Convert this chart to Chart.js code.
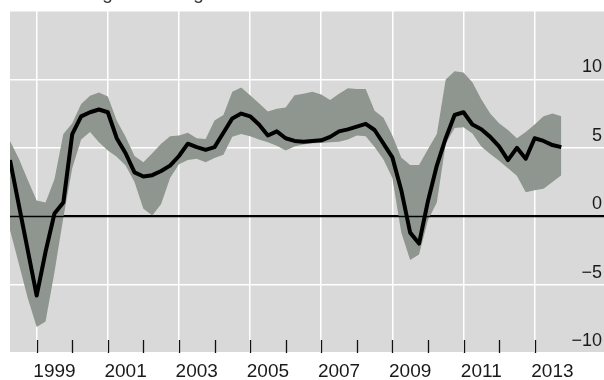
<!DOCTYPE html>
<html>
<head>
<meta charset="utf-8">
<script src="https://cdn.jsdelivr.net/npm/chart.js@4.4.1/dist/chart.umd.min.js"></script>
<style>
  html, body { margin: 0; padding: 0; background: #fff; overflow: hidden; }
  #wrap { position: relative; width: 604px; height: 380px; overflow: hidden; }
  #c { position: absolute; left: 0; top: 0; }
  #title { position: absolute; left: 53px; top: -18px; font: 19px "Liberation Sans", Arial, sans-serif;
           color: #333; white-space: nowrap; }
</style>
</head>
<body>
<div id="wrap">
  <canvas id="c" width="604" height="380"></canvas>
  <div id="title">Average and range</div>
</div>
<script>
// Quarterly periods, 1998 Q2 to 2013 Q4
const periods = [
  '1998Q2','1998Q3','1998Q4',
  '1999Q1','1999Q2','1999Q3','1999Q4',
  '2000Q1','2000Q2','2000Q3','2000Q4',
  '2001Q1','2001Q2','2001Q3','2001Q4',
  '2002Q1','2002Q2','2002Q3','2002Q4',
  '2003Q1','2003Q2','2003Q3','2003Q4',
  '2004Q1','2004Q2','2004Q3','2004Q4',
  '2005Q1','2005Q2','2005Q3','2005Q4',
  '2006Q1','2006Q2','2006Q3','2006Q4',
  '2007Q1','2007Q2','2007Q3','2007Q4',
  '2008Q1','2008Q2','2008Q3','2008Q4',
  '2009Q1','2009Q2','2009Q3','2009Q4',
  '2010Q1','2010Q2','2010Q3','2010Q4',
  '2011Q1','2011Q2','2011Q3','2011Q4',
  '2012Q1','2012Q2','2012Q3','2012Q4',
  '2013Q1','2013Q2','2013Q3','2013Q4'
];

// Average (black line)
const average = [
  4.1, 0.8, -2.5,
  -5.8, -2.6, 0.2, 1.0,
  6.0, 7.3, 7.6, 7.8,
  7.6, 5.7, 4.6, 3.2,
  2.9, 3.0, 3.3, 3.7,
  4.4, 5.3, 5.05, 4.85,
  5.05, 6.1, 7.15, 7.5,
  7.3, 6.7, 5.9, 6.2,
  5.7, 5.5, 5.45, 5.5,
  5.55, 5.8, 6.2, 6.35,
  6.55, 6.75, 6.3, 5.3,
  4.3, 1.9, -1.2, -2.0,
  1.1, 3.7, 5.7, 7.4,
  7.6, 6.7, 6.35, 5.8,
  5.1, 4.1, 5.0, 4.2,
  5.7, 5.5, 5.2, 5.05
];

// Top of the range (grey band)
const rangeHigh = [
  5.5, 4.2, 2.65,
  1.15, 1.0, 2.7, 6.0,
  6.8, 8.2, 8.8, 9.05,
  8.75, 7.0, 5.8, 4.4,
  3.95, 4.6, 5.3, 5.85,
  5.9, 6.1, 5.7, 5.65,
  7.0, 7.4, 9.1, 9.4,
  8.85, 8.25, 7.65, 7.85,
  7.95, 8.85, 8.95, 9.1,
  8.9, 8.5, 8.95, 9.35,
  9.3, 9.3, 7.7, 7.2,
  5.9, 4.3, 3.75, 3.75,
  4.9, 6.0, 10.0, 10.6,
  10.5, 9.8, 8.55, 7.5,
  6.8, 6.3, 5.7, 6.15,
  6.7, 7.3, 7.5, 7.3
];

// Bottom of the range (grey band)
const rangeLow = [
  -1.0, -3.5, -6.0,
  -8.1, -7.7, -4.1, -0.1,
  3.5, 5.6, 6.15, 5.4,
  4.8, 4.35, 3.7, 2.5,
  0.55, 0.05, 0.9, 2.8,
  3.8, 4.1, 4.2, 3.95,
  4.25, 4.5, 5.8, 6.0,
  5.85, 5.6, 5.4, 5.15,
  4.8, 5.1, 5.25, 5.33,
  5.36, 5.4, 5.45, 5.6,
  5.9, 5.85, 5.05, 4.15,
  2.8, -1.2, -3.2, -2.8,
  -0.3, 1.0, 5.3, 6.45,
  6.5, 6.05, 5.1, 4.55,
  4.05, 3.5, 2.95, 1.75,
  1.9, 2.0, 2.5, 3.0
];

// Axis ticks
const gridYears = [1999, 2001, 2003, 2005, 2007, 2009, 2011, 2013];
const yearMarks = [1999, 2000, 2001, 2002, 2003, 2004, 2005, 2006, 2007, 2008, 2009, 2010, 2011, 2012, 2013];
const yTicks = [-10, -5, 0, 5, 10, 15];

// 'YYYYQn' -> fractional year at the start of the quarter
const toYear = p => parseInt(p.slice(0, 4), 10) + (parseInt(p.slice(5), 10) - 1) / 4;
const pts = arr => periods.map((p, i) => ({ x: toYear(p), y: arr[i] }));

const FONT = '"Liberation Sans", Arial, Helvetica, sans-serif';

const panelPlugin = {
  id: 'panel',
  beforeDraw(chart) {
    const { ctx, chartArea: a } = chart;
    ctx.save();
    ctx.fillStyle = '#d9d9d9';
    ctx.fillRect(a.left, a.top, a.right - a.left, a.bottom - a.top);
    ctx.restore();
  },
  afterDatasetsDraw(chart) {
    const { ctx, chartArea: a, scales } = chart;
    ctx.save();
    // zero line
    const y0 = Math.round(scales.y.getPixelForValue(0)) + 0.5;
    ctx.strokeStyle = '#000';
    ctx.lineWidth = 1.3;
    ctx.beginPath();
    ctx.moveTo(a.left, y0);
    ctx.lineTo(a.right, y0);
    ctx.stroke();
    // yearly tick marks along the bottom, inside the panel
    ctx.lineWidth = 1.3;
    ctx.strokeStyle = '#111';
    yearMarks.forEach(yr => {
      const x = Math.round(scales.x.getPixelForValue(yr)) + 0.5;
      ctx.beginPath();
      ctx.moveTo(x, a.bottom);
      ctx.lineTo(x, a.bottom - 13);
      ctx.stroke();
    });
    ctx.restore();
  }
};

new Chart(document.getElementById('c'), {
  type: 'line',
  data: {
    datasets: [
      { label: 'low', data: pts(rangeLow), borderWidth: 0, pointRadius: 0, fill: false, order: 3 },
      { label: 'high', data: pts(rangeHigh), borderWidth: 0, pointRadius: 0,
        fill: '-1', backgroundColor: '#8f968f', order: 2 },
      { label: 'average', data: pts(average), borderColor: '#000', borderWidth: 4,
        pointRadius: 0, fill: false, borderJoinStyle: 'round', order: 1 }
    ]
  },
  options: {
    responsive: false,
    animation: false,
    devicePixelRatio: 1,
    parsing: false,
    layout: { padding: { left: 10, top: 11, right: 0, bottom: 0 } },
    plugins: { legend: { display: false }, tooltip: { enabled: false } },
    elements: { line: { tension: 0 } },
    scales: {
      x: {
        type: 'linear', position: 'bottom', min: 1998.25, max: 2014.95,
        afterBuildTicks: s => { s.ticks = gridYears.map(v => ({ value: v })); },
        afterFit: s => { s.height = 27; },
        border: { display: false },
        grid: { color: '#ffffff', lineWidth: 1.5, drawTicks: false },
        ticks: {
          callback: v => String(v),
          labelOffset: 17.8, padding: 7, maxRotation: 0, autoSkip: false,
          color: '#1a1a1a', font: { family: FONT, size: 19 }
        }
      },
      y: {
        type: 'linear', position: 'right', min: -10, max: 15,
        afterBuildTicks: s => { s.ticks = yTicks.map(v => ({ value: v })); },
        afterFit: s => { s.width = 0; },
        border: { display: false },
        grid: {
          color: c => (c.tick && c.tick.value === 0 ? '#000' : '#ffffff'),
          lineWidth: 1.5, drawTicks: false
        },
        ticks: {
          mirror: true, padding: -2, labelOffset: -12,
          callback: v => (v === 15 ? '' : (v < 0 ? '\u2212' + Math.abs(v) : String(v))),
          color: '#1a1a1a', font: { family: FONT, size: 18 }
        }
      }
    }
  },
  plugins: [panelPlugin]
});
</script>
</body>
</html>
